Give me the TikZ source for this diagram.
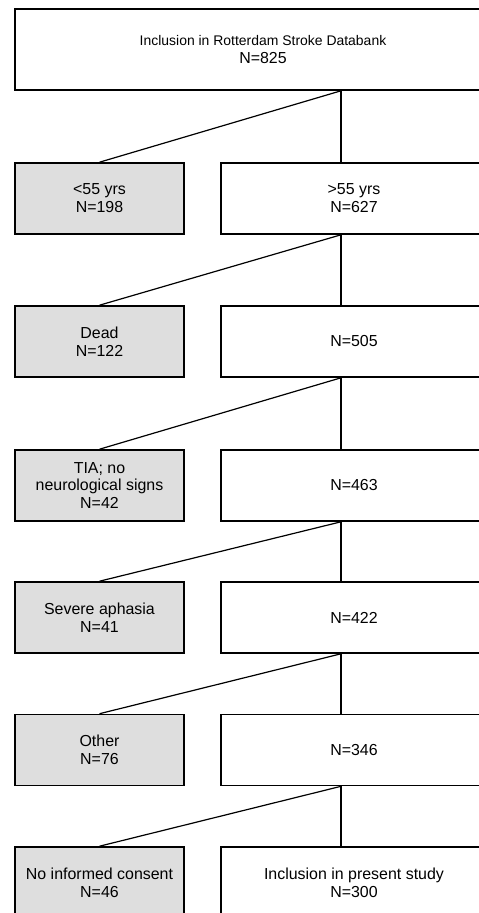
\documentclass[tikz,border=0pt]{standalone}
\usepackage{fontspec}
\setmainfont{Liberation Sans}
\usepackage{tikz}
\usetikzlibrary{positioning}

\begin{document}
\begin{tikzpicture}[x=1bp, y=-1bp,
  box/.style={draw, line width=1.6bp, minimum height=71bp, align=center,
              inner sep=2bp, font=\fontsize{16}{18}\selectfont},
  excl/.style={box, fill=black!13, minimum width=169bp},
  keep/.style={box, fill=white, minimum width=266bp},
  link/.style={line width=1.2bp}
]
\clip (0,0) rectangle (479,913);
\fill[white] (0,0) rectangle (479,913);

\node[box, minimum width=496bp, minimum height=81bp] (top) at (263,49.5)
  {{\fontsize{14}{18}\selectfont Inclusion in Rotterdam Stroke Databank}\\N=825};

\node[excl] (young)   at (99.5,198.5) {<55 yrs\\N=198};
\node[keep] (old)     at (354,198.5)  {>55 yrs\\N=627};
\node[excl] (dead)    at (99.5,341.5) {Dead\\N=122};
\node[keep] (alive)   at (354,341.5)  {N=505};
\node[excl] (tia)     at (99.5,485.5) {TIA; no\\neurological signs\\N=42};
\node[keep] (n463)    at (354,485.5)  {N=463};
\node[excl] (aphasia) at (99.5,617.5) {Severe aphasia\\N=41};
\node[keep] (n422)    at (354,617.5)  {N=422};
\node[excl] (other)   at (99.5,750)   {Other\\N=76};
\node[keep] (n346)    at (354,750)    {N=346};
\node[excl] (consent) at (99.5,882.5) {No informed consent\\N=46};
\node[keep] (study)   at (354,882.5)  {Inclusion in present study\\N=300};

% branch points sit left of the box centres
\coordinate (spine) at (341,0);

\draw[link] (top.south -| spine) -- (young.north);
\draw[link] (top.south -| spine) -- (old.north -| spine);
\draw[link] (old.south -| spine) -- (dead.north);
\draw[link] (old.south -| spine) -- (alive.north -| spine);
\draw[link] (alive.south -| spine) -- (tia.north);
\draw[link] (alive.south -| spine) -- (n463.north -| spine);
\draw[link] (n463.south -| spine) -- (aphasia.north);
\draw[link] (n463.south -| spine) -- (n422.north -| spine);
\draw[link] (n422.south -| spine) -- (other.north);
\draw[link] (n422.south -| spine) -- (n346.north -| spine);
\draw[link] (n346.south -| spine) -- (consent.north);
\draw[link] (n346.south -| spine) -- (study.north -| spine);
\end{tikzpicture}
\end{document}
